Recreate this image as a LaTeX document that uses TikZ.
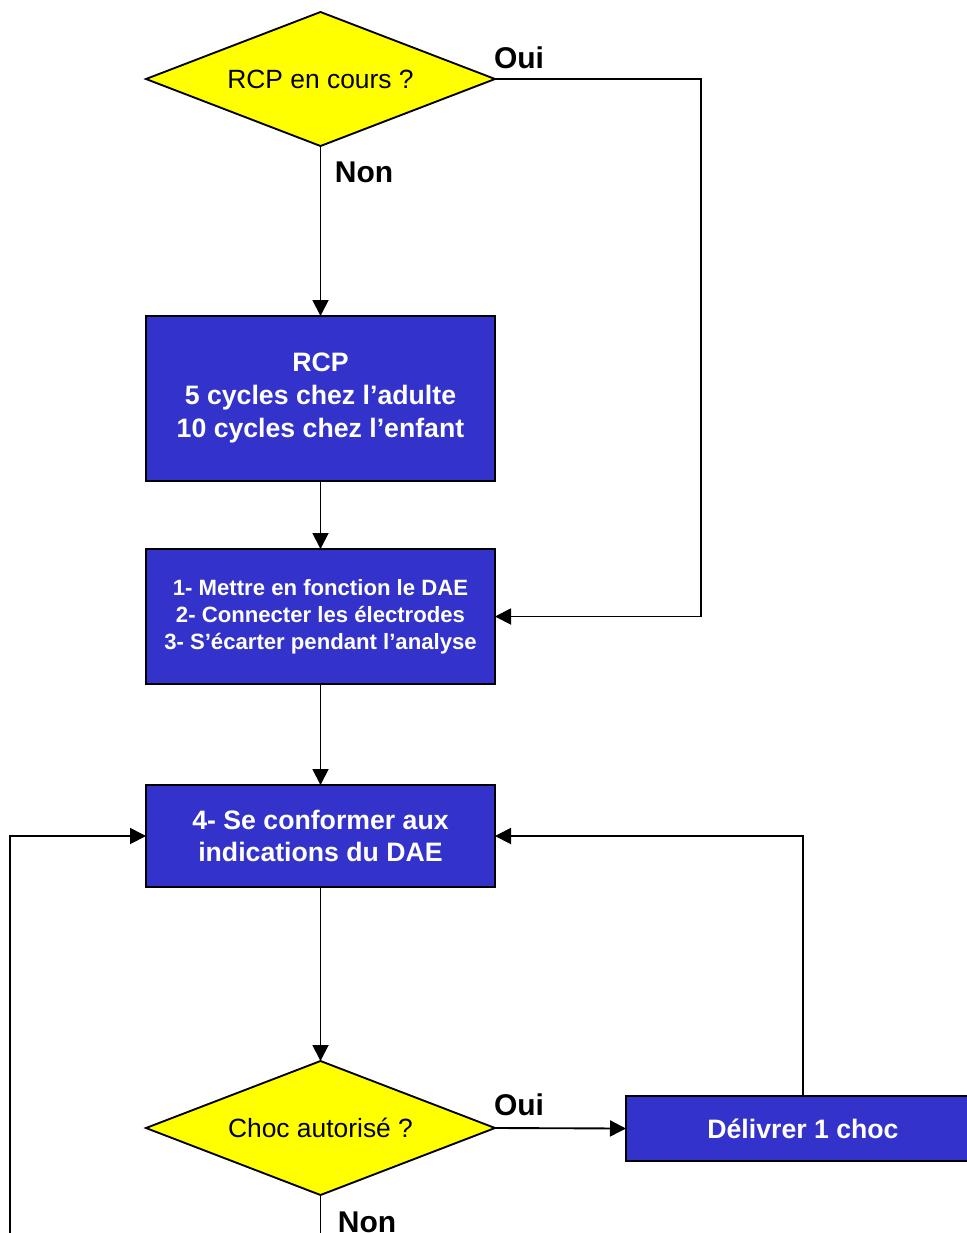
\documentclass[tikz,border=0pt]{standalone}
\usepackage{fontspec}
\setmainfont{Liberation Sans}
\usetikzlibrary{shapes.geometric,arrows.meta}
\definecolor{boxblue}{HTML}{3333CC}
\definecolor{decyellow}{HTML}{FFFF00}
\tikzset{
  px/.style={x=0.75pt,y=-0.75pt},
  decision/.style={diamond,draw=black,line width=1.4pt,fill=decyellow,minimum width=261.75pt,minimum height=100.5pt,aspect=2.6,inner sep=0pt,outer sep=0pt,font=\fontsize{19.8}{24}\selectfont},
  actbox/.style={rectangle,draw=black,line width=1.4pt,fill=boxblue,text=white,inner sep=0pt,outer sep=0pt,align=center,font=\bfseries\fontsize{20}{24.75}\selectfont},
  arr/.style={draw=black,line width=1.4pt,-{Triangle[length=12pt,width=12pt]}},
  lbl/.style={font=\bfseries\fontsize{22.5}{26}\selectfont,inner sep=0pt}
}
\begin{document}
\begin{tikzpicture}[px]
\useasboundingbox (0,0) rectangle (967,1233);
\clip (0,0) rectangle (967,1233);
\fill[white] (0,0) rectangle (967,1233);

\node[decision] (d1) at (320.5,79) {RCP en cours ?};
\node[actbox,minimum width=261.75pt,minimum height=123.75pt,text depth=4.5pt] (b1) at (320.5,398.5) {RCP\\5 cycles chez l’adulte\\10 cycles chez l’enfant};
\node[actbox,minimum width=261.75pt,minimum height=101.25pt,font=\bfseries\fontsize{16.6}{20.25}\selectfont] (b2) at (320.5,616.5) {1- Mettre en fonction le DAE\\2- Connecter les électrodes\\3- S’écarter pendant l’analyse};
\node[actbox,minimum width=261.75pt,minimum height=76.5pt,font=\bfseries\fontsize{20}{24}\selectfont] (b3) at (320.5,836) {4- Se conformer aux\\indications du DAE};
\node[decision] (d2) at (320.5,1128) {Choc autorisé ?};
\node[actbox,minimum width=265.5pt,minimum height=48.75pt] (b4) at (803,1128.5) {Délivrer 1 choc};

\node[lbl] (oui1) at (519,58) {Oui};
\node[lbl] (non1) at (364,172) {Non};
\node[lbl] (oui2) at (519,1105) {Oui};
\node[lbl] (non2) at (367,1222) {Non};

\coordinate (r1) at (701,79);
\coordinate (bl) at (10,1270);

\draw[arr] (d1.south) -- (b1.north);
\draw[arr] (b1.south) -- (b2.north);
\draw[arr] (b2.south) -- (b3.north);
\draw[arr] (b3.south) -- (d2.north);
\draw[arr] (d1.east) -- (r1) |- (b2.east);
\draw[arr] (d2.east) -- (b4.west);
\draw[arr] (b4.north) |- (b3.east);
\draw[arr] (d2.south) |- (bl) |- (b3.west);
\end{tikzpicture}
\end{document}
